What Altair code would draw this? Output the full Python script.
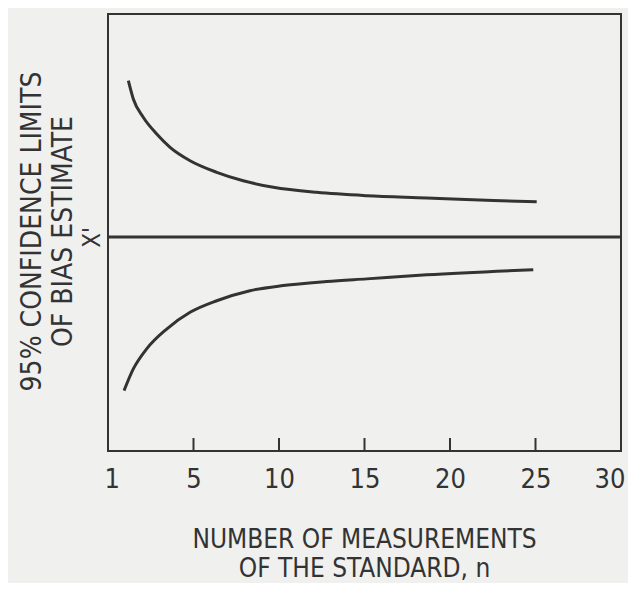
import altair as alt
import pandas as pd

# Data (x in axis units, y relative to X' line)
n_upper = [1.19, 1.48, 2.06, 2.85, 3.63, 4.80, 6.36, 7.91, 9.67, 12.20, 15.13, 18.64, 22.53, 25.07]
upper = [0.701, 0.619, 0.537, 0.462, 0.402, 0.342, 0.290, 0.252, 0.223, 0.200, 0.185, 0.175, 0.163, 0.158]
n_lower = [0.94, 1.48, 2.26, 3.43, 4.80, 6.36, 8.30, 10.25, 12.79, 15.13, 18.64, 24.87]
lower = [-0.689, -0.592, -0.502, -0.413, -0.338, -0.286, -0.241, -0.218, -0.200, -0.188, -0.170, -0.147]

tick_values = [0, 5, 10, 15, 20, 25, 30]
tick_labels = ["1", "5", "10", "15", "20", "25", "30"]
inner_ticks = [5, 10, 15, 20, 25]
center_value = [0]
center_label = "X'"

FONT = "Liberation Sans Narrow, DejaVu Sans Condensed, sans-serif"
INK = "#333333"
BG = "#f0f0ef"

df = pd.concat([
    pd.DataFrame({"n": n_upper, "v": upper, "s": "upper"}),
    pd.DataFrame({"n": n_lower, "v": lower, "s": "lower"}),
])

label_expr = "datum.label"
for v, l in zip(tick_values, tick_labels):
    label_expr = f"datum.value == {v} ? '{l}' : ({label_expr})"

x_scale = alt.Scale(domain=[0, 30], nice=False, zero=False)
y_scale = alt.Scale(domain=[-0.96, 1.0], nice=False, zero=False)

x_axis = alt.Axis(
    values=tick_values, labelExpr=label_expr, ticks=False, domain=False, grid=False,
    labelFont=FONT, labelFontSize=27, labelColor=INK, labelPadding=15,
    labelAngle=0, labelBaseline="top", labelFlush=True, labelFlushOffset=4,
    title=["NUMBER OF MEASUREMENTS", "OF THE STANDARD, n"],
    titleFont=FONT, titleFontSize=26, titleFontWeight="normal", titleColor=INK,
    titleLineHeight=29, titleX=256, titleY=88, titleAlign="center", titleBaseline="middle",
)
y_axis = alt.Axis(
    values=center_value, labelExpr=f"\"{center_label}\"", ticks=False, domain=False, grid=False,
    labelFont=FONT, labelFontSize=24, labelColor=INK, labelPadding=4,
    labelAngle=-90, labelAlign="center", labelBaseline="bottom",
    title=["95% CONFIDENCE LIMITS", "OF BIAS ESTIMATE"],
    titleFont=FONT, titleFontSize=28, titleFontWeight="normal", titleColor=INK,
    titleLineHeight=31, titleAngle=-90, titleX=-76, titleY=217,
    titleAlign="center", titleBaseline="middle",
)

curves = alt.Chart(df).mark_line(color=INK, strokeWidth=3, interpolate="monotone").encode(
    x=alt.X("n:Q", scale=x_scale, axis=x_axis),
    y=alt.Y("v:Q", scale=y_scale, axis=y_axis),
    detail="s:N",
)

center = alt.Chart(pd.DataFrame({"v": center_value})).mark_rule(color=INK, strokeWidth=3).encode(
    y=alt.Y("v:Q", scale=y_scale),
)

ticks = alt.Chart(pd.DataFrame({"t": inner_ticks})).mark_rule(color=INK, strokeWidth=2).encode(
    x=alt.X("t:Q", scale=x_scale),
    y=alt.value(437),
    y2=alt.value(424),
)

chart = alt.layer(curves, center, ticks).properties(
    width=513,
    height=437,
    autosize=alt.AutoSizeParams(type="none"),
    padding={"left": 100, "top": 6, "right": 7, "bottom": 132},
    background=BG,
).configure_view(
    stroke=INK, strokeWidth=2, fill=BG,
)

chart.save("out.html", embed_options={"renderer": "svg", "actions": False})
